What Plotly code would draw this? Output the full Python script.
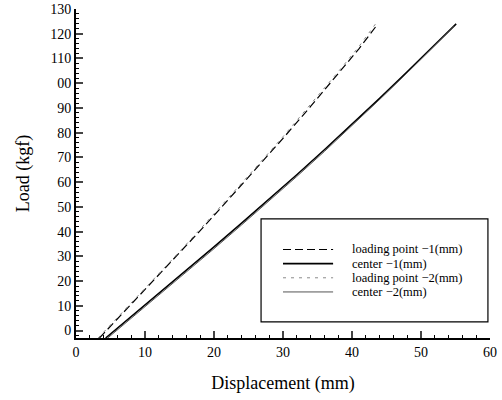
import plotly.graph_objects as go

# Data
lp1_x = [3.4, 6.0, 10.0, 14.0, 18.0, 22.0, 26.0, 30.0, 34.0, 38.0, 41.0, 43.7]
lp1_y = [-3, 4.7, 16.5, 28.4, 40.4, 52.7, 65.1, 77.7, 90.6, 103.8, 113.9, 123.8]

c1_x = [4.3, 8.0, 12.0, 16.0, 20.0, 24.0, 28.0, 32.0, 36.0, 40.0, 44.0, 48.0, 52.0, 55.1]
c1_y = [-3, 5.6, 14.9, 24.3, 33.8, 43.4, 53.1, 63.0, 73.1, 83.4, 93.9, 104.6, 115.5, 124]

lp2_x = [3.2, 6.0, 10.0, 14.0, 18.0, 22.0, 26.0, 30.0, 34.0, 38.0, 41.0, 43.5]
lp2_y = [-3, 5.2, 17.0, 28.9, 41.0, 53.3, 65.8, 78.4, 91.3, 104.6, 114.8, 124.3]

c2_x = [4.6, 8.0, 12.0, 16.0, 20.0, 24.0, 28.0, 32.0, 36.0, 40.0, 44.0, 48.0, 52.0, 54.8]
c2_y = [-3, 4.9, 14.2, 23.6, 33.1, 42.7, 52.4, 62.3, 72.4, 82.8, 93.4, 104.2, 115.2, 123]

names = ["loading point \u22121(mm)", "center \u22121(mm)", "loading point \u22122(mm)", "center \u22122(mm)"]

y_tickvals = [0, 10, 20, 30, 40, 50, 60, 70, 80, 90, 100, 110, 120, 130]
y_ticktext = ["0", "10", "20", "30", "40", "50", "60", "70", "80", "90", "00", "110", "120", "130"]
x_tickvals = [0, 10, 20, 30, 40, 50, 60]

FONT = "Liberation Serif"

styles = [
    dict(color="black", width=1.2, dash="8px,4px"),
    dict(color="black", width=1.6),
    dict(color="#8a8a8a", width=1, dash="3px,5px"),
    dict(color="#555555", width=1),
]
series = [(lp1_x, lp1_y), (c1_x, c1_y), (lp2_x, lp2_y), (c2_x, c2_y)]

fig = go.Figure()
for (xs, ys), nm, st in zip(series, names, styles):
    fig.add_trace(go.Scatter(x=xs, y=ys, mode="lines", name=nm, line=st, showlegend=False))

# Compact framed legend (drawn as shapes + text annotations)
shapes = [dict(type="rect", xref="paper", yref="paper",
               x0=0.447, x1=0.995, y0=0.049, y1=0.362,
               line=dict(color="black", width=1.2), fillcolor="rgba(0,0,0,0)")]
annotations = []
row_y = [0.269, 0.226, 0.183, 0.140]
for nm, st, ry in zip(names, styles, row_y):
    shapes.append(dict(type="line", xref="paper", yref="paper", x0=0.50, x1=0.621, y0=ry, y1=ry,
                       line=dict(color=st["color"], width=st["width"], dash=st.get("dash", "solid"))))
    annotations.append(dict(xref="paper", yref="paper", x=0.662, y=ry, text=nm, showarrow=False,
                            xanchor="left", yanchor="middle",
                            font=dict(family=FONT, size=12.5, color="black")))

fig.update_layout(
    width=502, height=400,
    margin=dict(l=76, r=12, t=9, b=62, autoexpand=False),
    paper_bgcolor="white", plot_bgcolor="white",
    font=dict(family=FONT, color="black", size=13),
    showlegend=False,
    shapes=shapes,
    annotations=annotations,
)

fig.update_xaxes(
    range=[0, 60], tickvals=x_tickvals, ticks="inside", ticklen=7, tickwidth=1.5,
    showline=True, linecolor="black", linewidth=2, showgrid=False, zeroline=False,
    tickfont=dict(family=FONT, size=14, color="black"),
    minor=dict(dtick=2, ticks="inside", ticklen=3, tickcolor="black", tickwidth=1),
    title=dict(text="Displacement (mm)", font=dict(family=FONT, size=18), standoff=18),
)
fig.update_yaxes(
    range=[-3, 130], tickvals=y_tickvals, ticktext=y_ticktext, ticks="inside", ticklen=7, tickwidth=1.5,
    showline=True, linecolor="black", linewidth=2, showgrid=False, zeroline=False,
    tickfont=dict(family=FONT, size=14, color="black"),
    minor=dict(tickvals=[v for v in range(-2, 130, 2) if v % 10 != 0], ticks="inside", ticklen=3,
               tickcolor="black", tickwidth=1),
    title=dict(text="Load (kgf)", font=dict(family=FONT, size=18), standoff=16),
)

fig.write_html("out.html")
